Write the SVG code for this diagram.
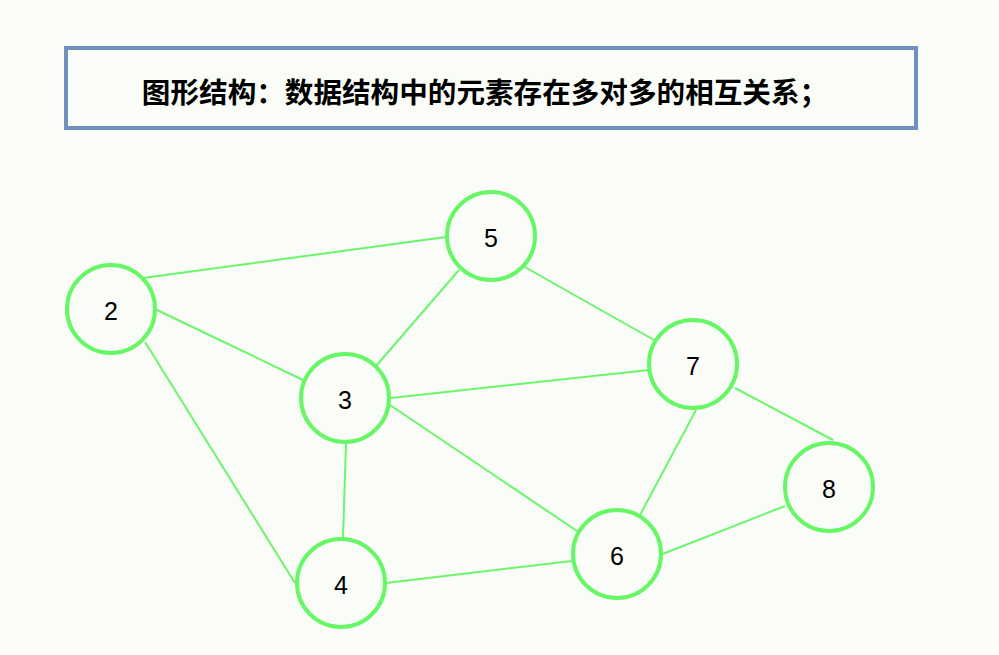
<svg xmlns="http://www.w3.org/2000/svg" width="999" height="655" viewBox="0 0 999 655">
<style>
.e{stroke:#6cf56c;stroke-width:2;fill:none}
.n circle{fill:#f9fcf7;stroke:#66f666;stroke-width:4}
.n text{font-family:"Liberation Sans",Arial,sans-serif;font-size:25px;fill:#000;text-anchor:middle;dominant-baseline:central}
</style>
<rect width="999" height="655" fill="#f9fcf7"/>
<g id="title">
<rect x="66" y="48" width="850" height="80" fill="#f9fcf7" stroke="#7090c0" stroke-width="4"/>
<text x="485" y="90" font-family="'Noto Sans CJK SC',sans-serif" font-size="28.6" font-weight="bold" text-anchor="middle" dominant-baseline="central">图形结构：数据结构中的元素存在多对多的相互关系；</text>
</g>
<g id="edges">
<line class="e" x1="143" y1="278" x2="446" y2="237"/>
<line class="e" x1="157" y1="310" x2="303" y2="380"/>
<line class="e" x1="145" y1="342" x2="295" y2="583"/>
<line class="e" x1="459" y1="270" x2="376" y2="366"/>
<line class="e" x1="523" y1="266" x2="654" y2="340"/>
<line class="e" x1="391" y1="398" x2="649" y2="370"/>
<line class="e" x1="346" y1="443" x2="343" y2="538"/>
<line class="e" x1="390" y1="405" x2="580" y2="533"/>
<line class="e" x1="696" y1="410" x2="640" y2="515"/>
<line class="e" x1="735" y1="388" x2="833" y2="440"/>
<line class="e" x1="660" y1="555" x2="785" y2="506"/>
<line class="e" x1="386" y1="583" x2="572" y2="561"/>
</g>
<g id="n2" class="n"><circle cx="111" cy="309" r="44"/><text x="111" y="311">2</text></g>
<g id="n5" class="n"><circle cx="491" cy="236" r="44"/><text x="491" y="238">5</text></g>
<g id="n3" class="n"><circle cx="345" cy="398" r="44"/><text x="345" y="400">3</text></g>
<g id="n7" class="n"><circle cx="693" cy="364" r="44"/><text x="693" y="366">7</text></g>
<g id="n8" class="n"><circle cx="829" cy="487" r="44"/><text x="829" y="489">8</text></g>
<g id="n6" class="n"><circle cx="617" cy="554" r="44"/><text x="617" y="556">6</text></g>
<g id="n4" class="n"><circle cx="341" cy="583" r="44"/><text x="341" y="585">4</text></g>
</svg>
